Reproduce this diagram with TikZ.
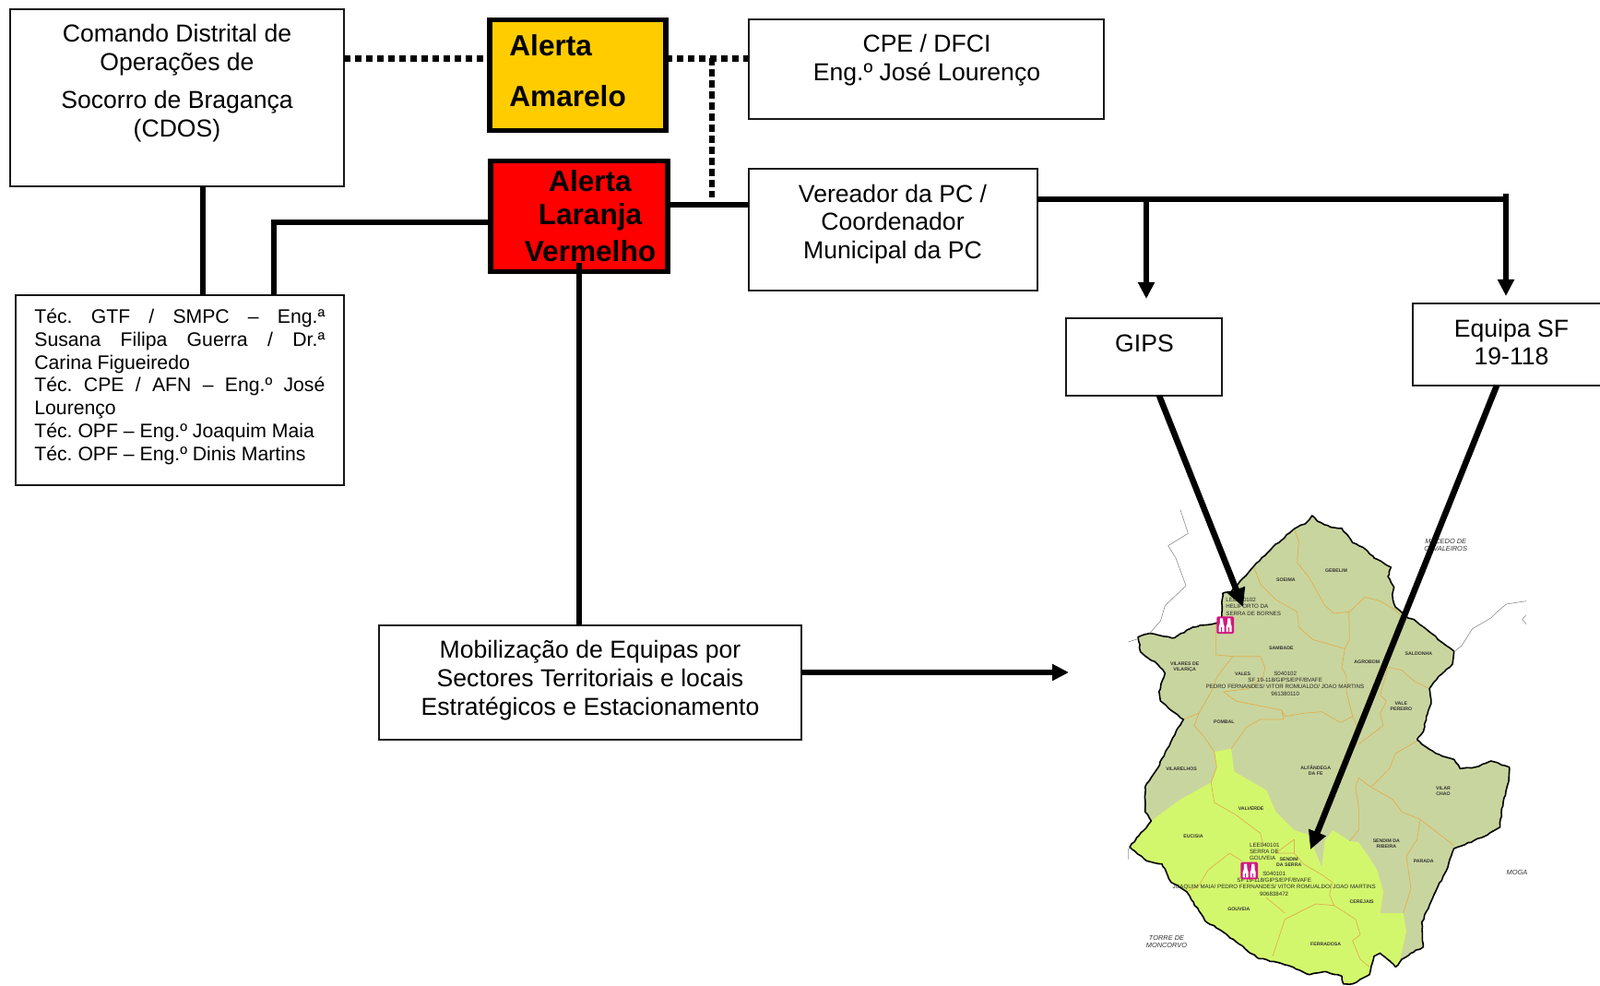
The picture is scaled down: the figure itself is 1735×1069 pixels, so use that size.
\documentclass[tikz,border=0pt]{standalone}
\usepackage{fontspec}
\setmainfont{Liberation Sans}
\usetikzlibrary{arrows.meta,calc,decorations.pathmorphing}
\definecolor{alertyellow}{HTML}{FFCC00}
\definecolor{mapgrey}{HTML}{C9D59E}
\definecolor{mapyellow}{HTML}{D3F76C}
\definecolor{maporange}{HTML}{E0AE50}
\definecolor{pictomag}{HTML}{D0187F}
\tikzset{
  plainbox/.style={draw=black!90,line width=1pt,fill=white,inner sep=0pt,outer sep=0pt},
  alertbox/.style={draw=black,line width=2.6pt,inner sep=0pt,outer sep=0pt},
  txtbig/.style={font=\fontsize{13.3}{15.4}\selectfont,align=center,inner sep=0pt},
  txtsmall/.style={font=\fontsize{10.6}{12.4}\selectfont\frenchspacing,inner sep=0pt,align=justify,text width=157.5pt},
  txtalert/.style={font=\fontsize{15.8}{18}\selectfont\bfseries,inner sep=0pt},
  conn/.style={line width=2.8pt,black},
  dots/.style={line width=3.2pt,black,dash pattern=on 3.6pt off 2.4pt},
  arrowc/.style={line width=3pt,black,-{Triangle[length=9pt,width=8.6pt]}},
  arrowd/.style={line width=3.3pt,black,-{Triangle[length=10pt,width=9.5pt]}},
  border/.style={line width=.8pt,black,line join=round,decorate,decoration={random steps,segment length=2pt,amplitude=.35pt}},
  parish/.style={draw=maporange,line width=.35pt,line join=round},
  outside/.style={draw=black!45,line width=.3pt},
  plab/.style={font=\fontsize{2.6}{3}\selectfont\bfseries,inner sep=0pt,align=center,black!80},
  slab/.style={font=\fontsize{3.1}{3.6}\selectfont,inner sep=0pt,black!85},
  clab/.style={font=\fontsize{3.7}{4.3}\selectfont\itshape,inner sep=0pt,black!80},
  binoc/.pic={
    \fill[pictomag,rounded corners=.7pt] (-28,-28) rectangle (28,28);
    \fill[white] (-17,-22) -- (-8,-22) -- (-6,-3) -- (-3,4) -- (-3,22) -- (-21,22) -- (-21,4) -- (-18,-3) -- cycle;
    \fill[white] (17,-22) -- (8,-22) -- (6,-3) -- (3,4) -- (3,22) -- (21,22) -- (21,4) -- (18,-3) -- cycle;
    \fill[pictomag] (-13,8) rectangle (-10,22);
    \fill[pictomag] (10,8) rectangle (13,22);
  }
}
\begin{document}
\begin{tikzpicture}[x=.5pt,y=-.5pt]
\useasboundingbox (0,0) rectangle (1735,1069);
\fill[white] (0,0) rectangle (1735,1069);
\clip (0,0) rectangle (1735,1069);

% ---------- map ----------
\begin{scope}[shift={(1180,530)},x=0.16667pt,y=-0.16667pt]
  \fill[mapgrey] (728,87)--(745,105)--(790,125)--(825,128)--(860,175)--(900,195)--(930,225)--(985,255)--(975,285)--(995,320)--(990,350)--(1000,385)--(1040,420)--(1060,425)--(1110,465)--(1190,530)--(1185,570)--(1140,610)--(1110,650)--(1115,700)--(1100,740)--(1090,790)--(1070,815)--(1100,840)--(1130,860)--(1190,880)--(1210,910)--(1260,905)--(1310,885)--(1370,905)--(1365,960)--(1345,1040)--(1340,1100)--(1290,1130)--(1190,1170)--(1170,1230)--(1130,1310)--(1085,1410)--(1090,1490)--(1050,1510)--(1020,1530)--(1000,1555)--(950,1510)--(930,1520)--(915,1580)--(860,1610)--(830,1610)--(825,1585)--(770,1570)--(720,1580)--(650,1550)--(550,1525)--(490,1480)--(430,1435)--(380,1405)--(320,1310)--(270,1280)--(240,1220)--(190,1210)--(135,1165)--(205,1080)--(185,1050)--(185,970)--(225,910)--(275,810)--(310,750)--(235,690)--(230,660)--(250,600)--(225,570)--(170,530)--(162,482)--(200,470)--(280,485)--(340,450)--(415,437)--(435,430)--(437,340)--(465,335)--(540,250)--(600,190)--(670,130)--(710,110)--cycle;
  \fill[mapyellow] (135,1165)--(205,1080)--(300,1010)--(400,955)--(418,905)--(410,855)--(465,845)--(475,920)--(580,980)--(610,1050)--(670,1110)--(718,1125)--(735,1170)--(760,1230)--(770,1145)--(795,1110)--(850,1145)--(880,1150)--(915,1200)--(940,1240)--(960,1310)--(950,1380)--(1025,1380)--(1035,1440)--(1010,1550)--(1000,1555)--(950,1510)--(930,1520)--(915,1580)--(860,1610)--(830,1610)--(825,1585)--(770,1570)--(720,1580)--(650,1550)--(550,1525)--(490,1480)--(430,1435)--(380,1405)--(320,1310)--(270,1280)--(240,1220)--(190,1210)--cycle;
  % parish limits
  \draw[parish] (670,130)--(685,170)--(680,240)--(720,290)--(770,380)--(800,405)--(850,400)--(900,352)--(950,365)--(1000,395)--(1015,410);
  \draw[parish] (540,255)--(560,310)--(610,360)--(680,400)--(685,450)--(730,490)--(800,510)--(835,520)--(850,490)--(848,400);
  \draw[parish] (835,520)--(825,580)--(840,610)--(840,660)--(860,740)--(870,760)--(880,800)--(870,835);
  \draw[parish] (975,580)--(1020,590)--(1060,625)--(1110,650);
  \draw[parish] (975,580)--(950,670)--(970,690)--(950,730)--(960,770)--(920,800)--(880,830);
  \draw[parish] (415,440)--(415,540)--(470,545)--(510,545)--(560,545)--(575,580)--(570,610)--(520,650)--(440,660)--(480,690)--(630,720)--(640,740)--(700,730)--(760,725)--(820,760)--(860,740);
  \draw[parish] (470,545)--(420,610)--(400,660)--(360,730)--(345,770)--(380,810)--(410,855)--(418,905)--(400,955)--(410,1020)--(480,1060)--(560,1120)--(570,1160);
  \draw[parish] (360,730)--(310,750);
  \draw[parish] (630,720)--(635,750)--(560,750)--(515,775)--(465,845);
  \draw[parish] (670,1140)--(610,1185)--(670,1185)--(700,1220)--(760,1255)--(795,1280)--(785,1320)--(800,1355)--(740,1350)--(680,1380)--(640,1400)--(600,1520);
  \draw[parish] (670,1140)--(670,1185);
  \draw[parish] (460,1185)--(390,1240)--(360,1290)--(320,1310);
  \draw[parish] (460,1185)--(500,1210);
  \draw[parish] (640,1380)--(580,1330);
  \draw[parish] (800,1355)--(870,1400)--(885,1450)--(860,1470)--(885,1530)--(915,1555);
  \draw[parish] (870,970)--(880,940)--(920,970)--(990,1010)--(1020,1050)--(1080,1075)--(1190,1160);
  \draw[parish] (870,970)--(880,1040)--(880,1110)--(850,1145);
  \draw[parish] (1080,1075)--(1070,1140)--(1035,1195)--(1050,1300)--(1025,1380);
  \draw[parish] (920,970)--(980,910)--(1000,860)--(1070,820);
  % outer limit
  \draw[border] (728,87)--(745,105)--(790,125)--(825,128)--(860,175)--(900,195)--(930,225)--(985,255)--(975,285)--(995,320)--(990,350)--(1000,385)--(1040,420)--(1060,425)--(1110,465)--(1190,530)--(1185,570)--(1140,610)--(1110,650)--(1115,700)--(1100,740)--(1090,790)--(1070,815)--(1100,840)--(1130,860)--(1190,880)--(1210,910)--(1260,905)--(1310,885)--(1370,905)--(1365,960)--(1345,1040)--(1340,1100)--(1290,1130)--(1190,1170)--(1170,1230)--(1130,1310)--(1085,1410)--(1090,1490)--(1050,1510)--(1020,1530)--(1000,1555)--(950,1510)--(930,1520)--(915,1580)--(860,1610)--(830,1610)--(825,1585)--(770,1570)--(720,1580)--(650,1550)--(550,1525)--(490,1480)--(430,1435)--(380,1405)--(320,1310)--(270,1280)--(240,1220)--(190,1210)--(135,1165)--(205,1080)--(185,1050)--(185,970)--(225,910)--(275,810)--(310,750)--(235,690)--(230,660)--(250,600)--(225,570)--(170,530)--(162,482)--(200,470)--(280,485)--(340,450)--(415,437)--(435,430)--(437,340)--(465,335)--(540,250)--(600,190)--(670,130)--(710,110)--cycle;
  % neighbouring limits
  \draw[outside] (300,68)--(325,145)--(260,185)--(285,225)--(318,315)--(250,380)--(235,430)--(200,470);
  \draw[outside] (162,488)--(130,498);
  \draw[outside] (1425,365)--(1360,375)--(1330,400)--(1310,420)--(1250,455)--(1215,510)--(1190,530);
  \draw[outside] (1425,440)--(1412,425)--(1425,410);
  \draw[outside] (135,1165)--(130,1175)--(130,1205);
  % labels
  \node[plab] (p1) at (807,265) {GEBELIM};
  \node[plab] (p2) at (643,296) {SOEIMA};
  \node[plab] (p3) at (628,519) {SAMBADE};
  \node[plab] (p4) at (314,581) {VILARES DE\\VILARIÇA};
  \node[plab] (p5) at (503,602) {VALES};
  \node[plab] (p6) at (907,564) {AGROBOM};
  \node[plab] (p7) at (1075,535) {SALDONHA};
  \node[plab] (p8) at (1018,706) {VALE\\PEREIRO};
  \node[plab] (p9) at (442,758) {POMBAL};
  \node[plab] (p10) at (303,912) {VILARELHOS};
  \node[plab] (p11) at (740,915) {ALFÂNDEGA\\DA FE};
  \node[plab] (p12) at (1155,983) {VILAR\\CHAO};
  \node[plab] (p13) at (530,1041) {VALVERDE};
  \node[plab] (p14) at (342,1130) {EUCISIA};
  \node[plab] (p15) at (970,1155) {SENDIM DA\\RIBEIRA};
  \node[plab] (p16) at (1091,1212) {PARADA};
  \node[plab] (p17) at (653,1215) {SENDIM\\DA SERRA};
  \node[plab] (p18) at (890,1342) {CEREJAIS};
  \node[plab] (p19) at (490,1366) {GOUVEIA};
  \node[plab] (p20) at (773,1482) {FERRADOSA};
  \node[slab,anchor=west] (s1) at (447,361) {LEE040102};
  \node[slab,anchor=west] (s2) at (447,382) {HELIPORTO DA};
  \node[slab,anchor=west] (s3) at (447,405) {SERRA DE BORNES};
  \node[slab] (s4) at (641,602) {S040102};
  \node[slab] (s5) at (641,623) {SF 19-118/GIPS/EPF/BVAFE};
  \node[slab] (s6) at (640,644) {PEDRO FERNANDES/ VITOR ROMUALDO/ JOAO MARTINS};
  \node[slab] (s7) at (641,668) {961380110};
  \node[slab,anchor=west] (s8) at (524,1160) {LEE040101};
  \node[slab,anchor=west] (s9) at (524,1181) {SERRA DE};
  \node[slab,anchor=west] (s10) at (524,1202) {GOUVEIA};
  \node[slab] (s11) at (605,1252) {S040101};
  \node[slab] (s12) at (605,1273) {SF 19-118/GIPS/EPF/BVAFE};
  \node[slab] (s13) at (605,1294) {JOAQUIM MAIA/ PEDRO FERNANDES/ VITOR ROMUALDO/ JOAO MARTINS};
  \node[slab] (s14) at (605,1318) {906838472};
  \node[clab] (c1) at (1163,170) {MACEDO DE};
  \node[clab] (c2) at (1163,196) {CAVALEIROS};
  \node[clab] (c3) at (1395,1248) {MOGA};
  \node[clab] (c4) at (255,1460) {TORRE DE};
  \node[clab] (c5) at (255,1485) {MONCORVO};
  \pic at (446,443) {binoc};
  \pic at (524,1242) {binoc};
\end{scope}

% ---------- boxes ----------
\node[plainbox,minimum width=181pt,minimum height=96pt] (cdos) at (192,106) {};
\node[plainbox,minimum width=178pt,minimum height=103pt] (tec) at (195,423) {};
\node[plainbox,minimum width=192.5pt,minimum height=54pt] (cpe) at (1004.5,75) {};
\node[plainbox,minimum width=156.5pt,minimum height=66pt] (ver) at (968.5,249) {};
\node[plainbox,minimum width=84.5pt,minimum height=42pt] (gips) at (1240.5,387) {};
\node[plainbox,minimum width=110pt,minimum height=44.5pt] (sf) at (1642,373.5) {};
\node[plainbox,minimum width=229pt,minimum height=62pt] (mob) at (640,740) {};
\node[alertbox,fill=alertyellow,minimum width=95.5pt,minimum height=60pt] (ama) at (626.5,81.5) {};
\node[alertbox,fill=red,minimum width=96pt,minimum height=60pt] (ver2) at (628,234.5) {};

% ---------- free ends ----------
\coordinate (dy) at (0,63.5);
\coordinate (dvx) at (772,214);
\coordinate (cx) at (220,0);
\coordinate (rx) at (297,241);
\coordinate (vy) at (0,222);
\coordinate (rtop) at (628,285);
\coordinate (hy) at (1633,216);
\coordinate (hend) at (1633,210);
\coordinate (gx) at (1243,324);
\coordinate (stip) at (1633,321);
\coordinate (mtip) at (1159,729);
\coordinate (gtip) at (1348,658);
\coordinate (ftip) at (1421,921);
\coordinate (gstart) at (1257,429);
\coordinate (fstart) at (1623,418);

% ---------- connectors ----------
\draw[dots] (cdos.east |- dy) -- (ama.west |- dy);
\draw[dots] (ama.east |- dy) -- (cpe.west |- dy);
\draw[dots] (dvx |- dy) -- (dvx);
\draw[conn] (cdos.south -| cx) -- (tec.north -| cx);
\draw[conn] (ver2.west |- rx) -- (rx) -- (tec.north -| rx);
\draw[conn] (ver2.east |- vy) -- (ver.west |- vy);
\draw[conn] (rtop) -- (mob.north -| rtop);
\draw[line width=3pt] (ver.east |- hy) -- (hy);
\draw[arrowc] (hend) -- (stip);
\draw[arrowc] (gx |- hy) -- (gx);
\draw[arrowc] (mob.east |- mtip) -- (mtip);
\draw[arrowd] (gstart) -- (gtip);
\draw[arrowd] (fstart) -- (ftip);

% ---------- texts ----------
\node[txtbig] (tcdos) at (192,90) {Comando Distrital de\\Operações de\\[5.2pt]Socorro de Bragança\\(CDOS)};
\node[txtsmall,anchor=north west] (ttec) at (37,334.5) {Téc. GTF / SMPC – Eng.ª\linebreak Susana Filipa Guerra / Dr.ª\linebreak Carina Figueiredo\par Téc. CPE / AFN – Eng.º José\linebreak Lourenço\par Téc. OPF – Eng.º Joaquim Maia\par Téc. OPF – Eng.º Dinis Martins};
\node[txtbig] (tcpe) at (1005,65) {CPE / DFCI\\Eng.º José Lourenço};
\node[txtbig] (tver) at (968,243) {Vereador da PC /\\Coordenador\\Municipal da PC};
\node[txtbig] (tgips) at (1241,372) {GIPS};
\node[txtbig] (tsf) at (1639,371) {Equipa SF\\19-118};
\node[txtbig] (tmob) at (640,737.5) {Mobilização de Equipas por\\Sectores Territoriais e locais\\Estratégicos e Estacionamento};
\node[txtalert,anchor=west] (ta1) at (552,49) {Alerta};
\node[txtalert,anchor=west] (ta2) at (552,104) {Amarelo};
\node[txtalert] (tr1) at (640,196.5) {Alerta};
\node[txtalert] (tr2) at (640,235) {Laranja};
\node[txtalert] (tr3) at (640,272) {Vermelho};
\draw[line width=2.8pt] (rtop) -- ++(0,14);
\end{tikzpicture}
\end{document}
